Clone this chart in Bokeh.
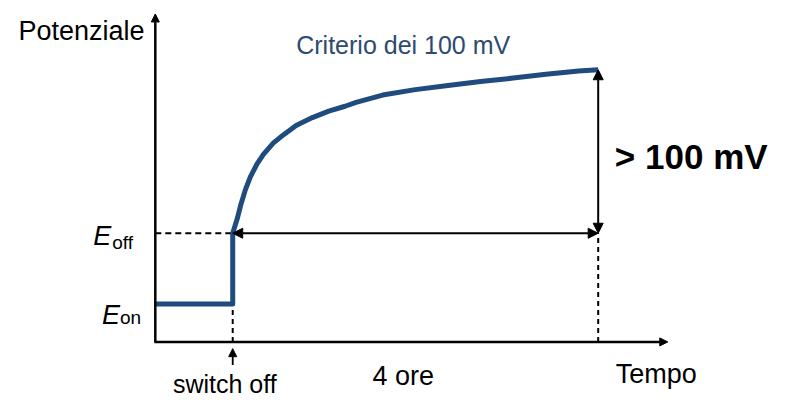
from bokeh.plotting import figure
from bokeh.models import Range1d, Arrow, NormalHead
from bokeh.core.properties import value
from bokeh.embed import file_html
from bokeh.resources import INLINE

# ---- data (time in hours after switch off, potential in mV relative to E_off) ----
time_h = [0.0, 0.05, 0.086, 0.139, 0.193, 0.265, 0.336, 0.443, 0.55, 0.694, 0.872,
          1.051, 1.23, 1.35, 1.641, 1.998, 2.356, 2.713, 3.07, 3.428, 3.786, 4.0]
potential_mv = [0.0, 10.8, 20.3, 32.0, 41.4, 50.8, 57.9, 66.1, 72.0, 79.1, 84.9,
                89.6, 93.2, 96.0, 101.4, 105.4, 108.5, 111.3, 113.9, 116.7, 119.1, 120.0]
E_on = -52.0
E_off = 0.0
t_switch = 0.0
t_end = 4.0

labels = {
    "y": "Potenziale",
    "x": "Tempo",
    "title": "Criterio dei 100 mV",
    "delta": "> 100 mV",
    "dur": "4 ore",
    "switch": "switch off",
}

# ---- layout: reference frame 793x418 squeezed into the 777x402 canvas ----
W, H = 777, 402
REF_W, REF_H = 793, 418
PXH = 93.25                 # reference px per hour
PXM = 170.0 / 120.0         # reference px per mV
X0, Y0 = 237.0, 242.0       # reference position of (t=0, E=0)

def rx(px):
    return (px - X0) / PXH

def ry(py):
    return (Y0 - py) / PXM

p = figure(width=W, height=H, x_range=Range1d(rx(0), rx(REF_W)),
           y_range=Range1d(ry(REF_H), ry(0)),
           x_axis_type=None, y_axis_type=None, toolbar_location=None,
           output_backend="svg", min_border=0)
p.outline_line_color = None
p.background_fill_color = "white"
p.border_fill_color = "white"

FONT = value("Liberation Sans")
BLUE = "#1f4b7f"
BLACK = "black"

def arrow(xs, ys, xe, ye, both=False, size=10, lw=2):
    head = lambda: NormalHead(size=size, fill_color=BLACK, line_color=BLACK, line_width=1)
    p.add_layout(Arrow(x_start=xs, y_start=ys, x_end=xe, y_end=ye,
                       start=head() if both else None, end=head(),
                       line_color=BLACK, line_width=lw))

t_axis, E_axis = rx(158), ry(355)

# axes with arrows
arrow(t_axis, E_axis, t_axis, ry(14), size=8, lw=2.5)
arrow(rx(157), E_axis, rx(681), E_axis, size=8, lw=2.5)

# dashed guides
p.line([t_axis, t_switch], [E_off, E_off], line_color=BLACK, line_width=2, line_dash="6 4")
p.line([t_switch, t_switch], [E_axis, E_on], line_color=BLACK, line_width=2, line_dash="5 4")
p.line([t_end, t_end], [E_axis, E_off], line_color=BLACK, line_width=2, line_dash="5 4")

# double arrows
arrow(t_switch, E_off, t_end, E_off, both=True, size=10, lw=2)
arrow(t_end, E_off, t_end, potential_mv[-1], both=True, size=10, lw=2)

# switch off marker arrow
arrow(t_switch, ry(379), t_switch, ry(362), size=8, lw=1.8)

# potential curve
xs = [t_axis, t_switch] + time_h
ys = [E_on, E_on] + potential_mv
p.line(xs, ys, line_color=BLUE, line_width=5, line_join="round", line_cap="butt")

def txt(px, py, s, size, align="left", color=BLACK, style="normal"):
    p.text(x=[rx(px)], y=[ry(py)], text=[s], text_font=FONT, text_font_size=size,
           text_align=align, text_baseline="alphabetic", text_color=color,
           text_font_style=style)

txt(147, 32, labels["y"], "27px", align="right")
txt(411, 46, labels["title"], "25px", align="center", color="#2d4a70")
txt(627, 162, labels["delta"], "35px", style="bold")
txt(411, 390, labels["dur"], "27px", align="center")
txt(628, 388, labels["x"], "27px")
txt(176, 399, labels["switch"], "25px")

# E_off / E_on labels
txt(113, 245, "E", "27px", align="right", style="italic")
txt(114, 252, "off", "19px")
txt(122, 327, "E", "27px", align="right", style="italic")
txt(122, 330, "on", "19px")

open("out.html", "w").write(file_html(p, INLINE))
